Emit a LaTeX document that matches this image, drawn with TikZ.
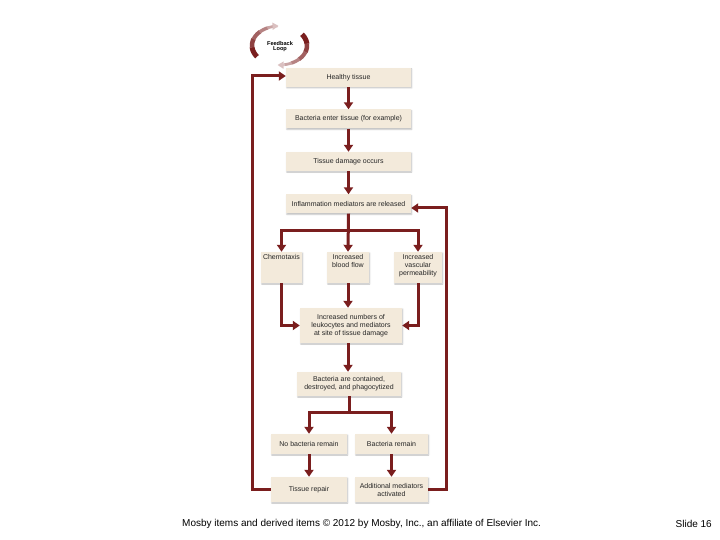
\documentclass[tikz,border=0pt]{standalone}
\usepackage{fontspec}
\setmainfont{Liberation Sans}
\usepackage{tikz}
\usetikzlibrary{
  arrows.meta,
  shadows.blur
}
\definecolor{boxfill}{HTML}{F3EADB}
\definecolor{flowred}{HTML}{7A1E1E}

\tikzset{
  tissuebox/.style={fill=boxfill, inner sep=0pt, align=center, text=black!85,
    font=\fontsize{7}{8}\selectfont,
    blur shadow={shadow xshift=0.8pt, shadow yshift=-1pt, shadow blur radius=1.2pt, shadow opacity=25}},
  flowarrow/.style={draw=flowred, line width=3pt, -{Triangle[width=9pt,length=7pt]}}
}

\begin{document}
\begin{tikzpicture}[x=1pt,y=-1pt]
            \useasboundingbox (0,0) rectangle (720,540);
            % feedback loop sign
            \foreach \from/\to/\tint/\wd in {215/185/100/5, 186/160/85/4.5, 161/135/70/4, 136/115/55/3.4, 116/100/40/2.8}
              \draw[line width=\wd pt, flowred!\tint!white] plot[domain=\from:\to, samples=8, variable=\a] ({279.5+27.5*cos(\a)},{45.5-19.5*sin(\a)});
            \draw[line width=2.4pt, flowred!28!white, -{Triangle[width=7pt,length=6pt]}] plot[domain=101:92, samples=5, variable=\a] ({279.5+27.5*cos(\a)},{45.5-19.5*sin(\a)});
            \foreach \from/\to/\tint/\wd in {35/5/100/5, 6/-20/85/4.5, -19/-45/70/4, -44/-65/55/3.4, -64/-80/40/2.8}
              \draw[line width=\wd pt, flowred!\tint!white] plot[domain=\from:\to, samples=8, variable=\a] ({279.5+27.5*cos(\a)},{45.5-19.5*sin(\a)});
            \draw[line width=2.4pt, flowred!28!white, -{Triangle[width=7pt,length=6pt]}] plot[domain=-79:-94, samples=5, variable=\a] ({279.5+27.5*cos(\a)},{45.5-19.5*sin(\a)});
            \node[font=\fontsize{5.6}{5.6}\selectfont\bfseries, align=center, inner sep=0pt] (loop) at (280,46.5) {Feedback\\Loop};
            % main column
            \node[tissuebox, minimum width=125pt, minimum height=19pt] (healthy) at (348.5,77.5) {Healthy tissue};
            \node[tissuebox, minimum width=125pt, minimum height=19pt] (enter) at (348.5,119) {Bacteria enter tissue (for example)};
            \node[tissuebox, minimum width=125pt, minimum height=19pt] (damage) at (348.5,161.5) {Tissue damage occurs};
            \node[tissuebox, minimum width=125pt, minimum height=19pt] (inflam) at (348.5,204) {Inflammation mediators are released};
            \node[tissuebox, minimum width=41pt, minimum height=31pt] (chemo) at (281.5,267.5) {\parbox[c][27pt][t]{40pt}{\centering Chemotaxis}};
            \node[tissuebox, minimum width=42pt, minimum height=31pt] (bloodflow) at (348,267.5) {\parbox[c][27pt][t]{41pt}{\centering Increased\\blood flow}};
            \node[tissuebox, minimum width=48pt, minimum height=31pt] (vascular) at (418,267.5) {\parbox[c][27pt][t]{47pt}{\centering Increased\\vascular\\permeability}};
            \node[tissuebox, minimum width=102pt, minimum height=35pt] (numbers) at (351,325.5) {Increased numbers of\\leukocytes and mediators\\at site of tissue damage};
            \node[tissuebox, minimum width=104pt, minimum height=24pt] (contained) at (349,384) {Bacteria are contained,\\destroyed, and phagocytized};
            \node[tissuebox, minimum width=76pt, minimum height=20pt] (nobact) at (309,444) {No bacteria remain};
            \node[tissuebox, minimum width=73pt, minimum height=20pt] (bactrem) at (391.5,444) {Bacteria remain};
            \node[tissuebox, minimum width=76pt, minimum height=25pt] (repair) at (309,489.5) {Tissue repair};
            \node[tissuebox, minimum width=73pt, minimum height=25pt] (addmed) at (391.5,489.5) {Additional mediators\\activated};
            % connectors
            \draw[flowarrow] (healthy) -- (enter);
            \draw[flowarrow] (enter) -- (damage);
            \draw[flowarrow] (damage) -- (inflam);
            \draw[flowarrow] (inflam.south) -- (bloodflow.north);
            \draw[flowarrow] (inflam.south) -- ++(0,17) -| (chemo.north);
            \draw[flowarrow] (inflam.south) -- ++(0,17) -| (vascular.north);
            \draw[flowarrow] (chemo.south) |- (numbers.west);
            \draw[flowarrow] (bloodflow.south) -- (bloodflow.south |- numbers.north);
            \draw[flowarrow] (vascular.south) |- (numbers.east);
            \draw[flowarrow] (bloodflow.south |- numbers.south) -- (bloodflow.south |- contained.north);
            \draw[flowarrow] (contained.south) -- ++(0,16) -| (nobact.north);
            \draw[flowarrow] (contained.south) -- ++(0,16) -| (bactrem.north);
            \draw[flowarrow] (nobact) -- (repair);
            \draw[flowarrow] (bactrem) -- (addmed);
            \draw[flowarrow] (repair.west) -- ++(-18,0) |- ([yshift=1.5pt]healthy.west);
            \draw[flowarrow] (addmed.east) -- ++(18,0) |- ([yshift=-4pt]inflam.east);
            % footer
            \node[anchor=west, inner sep=0pt, font=\fontsize{10}{12}\selectfont] (credit) at (182,524) {Mosby items and derived items © 2012 by Mosby, Inc., an affiliate of Elsevier Inc.};
            \node[anchor=east, inner sep=0pt, font=\fontsize{10}{12}\selectfont] (slide) at (712,524) {Slide 16};
        \end{tikzpicture}
\end{document}
